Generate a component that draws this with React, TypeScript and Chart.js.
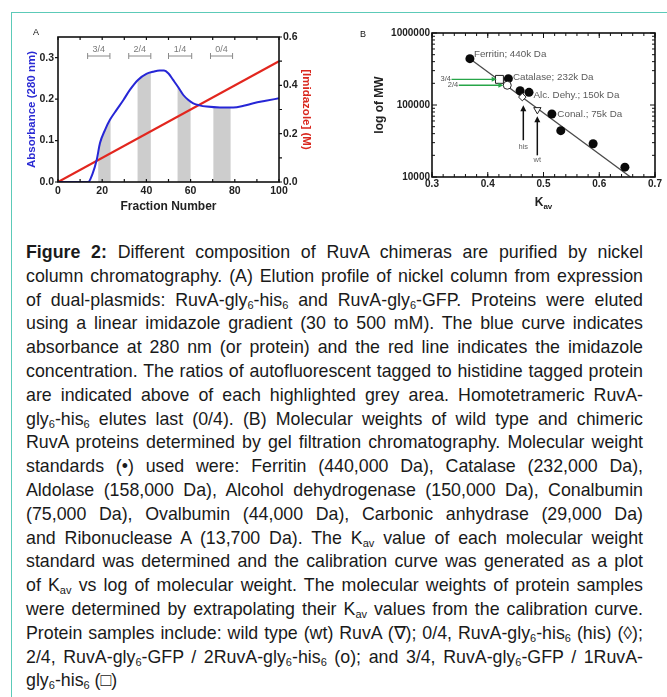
import React, { useEffect, useRef } from 'react';
import { Chart, registerables } from 'chart.js';
Chart.register(...registerables);

const FONT = '"Liberation Sans", Arial, Helvetica, sans-serif';

// ---------- Panel A data ----------
const fractions = [0, 5, 10, 13.7, 15.5, 17.5, 19, 21.3, 23.5, 26.5, 29.6, 32.6, 36.3, 40, 43, 46, 48, 50, 52, 54.5, 56.7, 59, 61.2, 64, 67.3, 73.3, 79.3, 84, 88.4, 94, 100];
const absorbance = [0, 0, 0, 0, 0.018, 0.053, 0.094, 0.126, 0.15, 0.174, 0.198, 0.223, 0.247, 0.261, 0.266, 0.269, 0.269, 0.262, 0.247, 0.228, 0.21, 0.198, 0.19, 0.185, 0.182, 0.18, 0.18, 0.184, 0.19, 0.196, 0.202];
const imidazoleFractions = [0, 100];
const imidazoleM = [0, 0.5];
const ratioLabels = ['3/4', '2/4', '1/4', '0/4'];
const bracketStart = [13.4, 32, 50, 69];
const bracketEnd = [23.5, 42, 60.5, 79];
const shadeStart = [18.2, 36, 54.1, 70.3];
const shadeEnd = [23.8, 42, 60, 78.1];

// ---------- Panel B data ----------
const stdKav = [0.368, 0.437, 0.458, 0.474, 0.515, 0.531, 0.589, 0.646];
const stdMW = [440000, 232000, 158000, 150000, 75000, 44000, 29000, 13700];
const stdLabels = ['Ferritin; 440k Da', 'Catalase; 232k Da', 'Alc. Dehy.; 150k Da', 'Conal.; 75k Da'];
const stdLabelIndex = [0, 1, 3, 4];
const fitKav = [0.368, 0.656];
const fitMW = [440000, 10000];
const sampleNames = ['3/4', '2/4', 'his', 'wt'];
const sampleKav = [0.421, 0.435, 0.462, 0.489];
const sampleMW = [227000, 188000, 129000, 86000];
const greenArrowStartKav = [0.335, 0.348];
const greenArrowEndKav = [0.416, 0.428];
const blackArrowKav = [0.4638, 0.4889];
const blackArrowFromMW = [32400, 20000];
const blackArrowToMW = [99000, 69700];
const blackArrowLabelMW = [26100, 17500];

// ---------- Caption ----------
const captionLines = [
  '**Figure 2:** Different composition of RuvA chimeras are purified by nickel',
  'column chromatography. (A) Elution profile of nickel column from expression',
  'of dual-plasmids: RuvA-gly~6-his~6 and RuvA-gly~6-GFP. Proteins were eluted',
  'using a linear imidazole gradient (30 to 500 mM). The blue curve indicates',
  'absorbance at 280 nm (or protein) and the red line indicates the imidazole',
  'concentration. The ratios of autofluorescent tagged to histidine tagged protein',
  'are indicated above of each highlighted grey area. Homotetrameric RuvA-',
  'gly~6-his~6 elutes last (0/4). (B) Molecular weights of wild type and chimeric',
  'RuvA proteins determined by gel filtration chromatography. Molecular weight',
  'standards (\u2022) used were: Ferritin (440,000 Da), Catalase (232,000 Da),',
  'Aldolase (158,000 Da), Alcohol dehydrogenase (150,000 Da), Conalbumin',
  '(75,000 Da), Ovalbumin (44,000 Da), Carbonic anhydrase (29,000 Da)',
  'and Ribonuclease A (13,700 Da). The K~av value of each molecular weight',
  'standard was determined and the calibration curve was generated as a plot',
  'of K~av vs log of molecular weight. The molecular weights of protein samples',
  'were determined by extrapolating their K~av values from the calibration curve.',
  'Protein samples include: wild type (wt) RuvA (\u2207); 0/4, RuvA-gly~6-his~6 (his) (\u25CA);',
  '2/4, RuvA-gly~6-GFP / 2RuvA-gly~6-his~6 (o); and 3/4,  RuvA-gly~6-GFP / 1RuvA-',
  'gly~6-his~6 (\u25A1)',
];

type Side = 'left' | 'right' | 'top' | 'bottom';
function drawTickMarks(ctx: CanvasRenderingContext2D, chart: any, scaleId: string, values: number[], len: number, side: Side) {
  const a = chart.chartArea;
  const s = chart.scales[scaleId];
  ctx.beginPath();
  values.forEach((v) => {
    const p = s.getPixelForValue(v);
    if (side === 'left') { ctx.moveTo(a.left, p); ctx.lineTo(a.left + len, p); }
    if (side === 'right') { ctx.moveTo(a.right, p); ctx.lineTo(a.right - len, p); }
    if (side === 'top') { ctx.moveTo(p, a.top); ctx.lineTo(p, a.top + len); }
    if (side === 'bottom') { ctx.moveTo(p, a.bottom); ctx.lineTo(p, a.bottom - len); }
  });
  ctx.stroke();
}

function range(a: number, b: number, step: number) {
  const out: number[] = [];
  for (let v = a; v <= b + step * 1e-6; v += step) out.push(Math.round(v * 1e6) / 1e6);
  return out;
}

function PanelA() {
  const ref = useRef<HTMLCanvasElement>(null);
  useEffect(() => {
    const shade = {
      id: 'shadeA',
      beforeDatasetsDraw(chart: any) {
        const { ctx, chartArea, scales } = chart;
        const pts = chart.getDatasetMeta(0).data;
        const base = scales.y.getPixelForValue(0);
        ctx.save();
        ctx.fillStyle = '#cdcdcd';
        for (let i = 0; i < shadeStart.length; i++) {
          const x0 = scales.x.getPixelForValue(shadeStart[i]);
          const x1 = scales.x.getPixelForValue(shadeEnd[i]);
          ctx.save();
          ctx.beginPath();
          ctx.rect(x0, chartArea.top, x1 - x0, chartArea.bottom - chartArea.top);
          ctx.clip();
          ctx.beginPath();
          ctx.moveTo(pts[0].x, base);
          pts.forEach((p: any) => ctx.lineTo(p.x, p.y));
          ctx.lineTo(pts[pts.length - 1].x, base);
          ctx.closePath();
          ctx.fill();
          ctx.restore();
        }
        ctx.restore();
      },
    };
    const deco = {
      id: 'decoA',
      afterDraw(chart: any) {
        const { ctx, chartArea: a, scales } = chart;
        ctx.save();
        // brackets
        ctx.strokeStyle = '#8a8a8a';
        ctx.fillStyle = '#7a7a7a';
        ctx.lineWidth = 1;
        const by = a.top + 19;
        ctx.font = `9px ${FONT}`;
        ctx.textAlign = 'center';
        ctx.textBaseline = 'middle';
        for (let i = 0; i < ratioLabels.length; i++) {
          const x0 = scales.x.getPixelForValue(bracketStart[i]);
          const x1 = scales.x.getPixelForValue(bracketEnd[i]);
          ctx.beginPath();
          ctx.moveTo(x0, by); ctx.lineTo(x1, by);
          ctx.moveTo(x0, by - 3); ctx.lineTo(x0, by + 3);
          ctx.moveTo(x1, by - 3); ctx.lineTo(x1, by + 3);
          ctx.stroke();
          ctx.fillText(ratioLabels[i], (x0 + x1) / 2, by - 6);
        }
        // frame
        ctx.strokeStyle = '#111';
        ctx.lineWidth = 1.6;
        ctx.strokeRect(a.left, a.top, a.right - a.left, a.bottom - a.top);
        ctx.lineWidth = 1.2;
        drawTickMarks(ctx, chart, 'x', range(0, 100, 10), 3, 'top');
        drawTickMarks(ctx, chart, 'x', range(0, 100, 10), 3, 'bottom');
        drawTickMarks(ctx, chart, 'y', range(0, 0.3, 0.1), -3, 'left');
        drawTickMarks(ctx, chart, 'y2', range(0, 0.6, 0.1), -3, 'right');
        // panel letter
        ctx.fillStyle = '#111';
        ctx.font = `9px ${FONT}`;
        ctx.textAlign = 'left';
        ctx.fillText('A', 19, 19);
        ctx.restore();
      },
    };
    const tickFont = { family: FONT, size: 10.5, weight: 'bold' as const };
    const chart = new Chart(ref.current!, {
      type: 'line',
      data: {
        datasets: [
          {
            data: fractions.map((f, i) => ({ x: f, y: absorbance[i] })),
            yAxisID: 'y',
            borderColor: '#2626d6',
            borderWidth: 2,
            pointRadius: 0,
            tension: 0.35,
            cubicInterpolationMode: 'monotone',
          },
          {
            data: imidazoleFractions.map((f, i) => ({ x: f, y: imidazoleM[i] })),
            yAxisID: 'y2',
            borderColor: '#e2261e',
            borderWidth: 2.2,
            pointRadius: 0,
          },
        ],
      },
      options: {
        animation: false,
        responsive: false,
        devicePixelRatio: 1,
        layout: { padding: { top: 23, left: 0, right: 0, bottom: 0 } },
        plugins: { legend: { display: false }, tooltip: { enabled: false } },
        scales: {
          x: {
            type: 'linear', min: 0, max: 100,
            ticks: { stepSize: 20, font: tickFont, color: '#222', padding: 3, maxRotation: 0 },
            grid: { display: false, drawTicks: false },
            border: { display: false },
            title: { display: true, text: 'Fraction Number', color: '#222', font: { family: FONT, size: 12, weight: 'bold' }, padding: { top: 0, bottom: 6 } },
            afterFit: (s: any) => { s.height = 38; },
          },
          y: {
            type: 'linear', position: 'left', min: 0, max: 0.35,
            ticks: { stepSize: 0.1, includeBounds: false, callback: (v: any) => Number(v).toFixed(1), font: tickFont, color: '#222', padding: 4 },
            grid: { display: false, drawTicks: false },
            border: { display: false },
            title: { display: true, text: 'Absorbance (280 nm)', color: '#2b2bd3', font: { family: FONT, size: 11.5, weight: 'bold' }, padding: { top: 11, bottom: 0 } },
            afterFit: (s: any) => { s.width = 44; },
          },
          y2: {
            type: 'linear', position: 'right', min: 0, max: 0.6,
            ticks: { stepSize: 0.2, callback: (v: any) => Number(v).toFixed(1), font: tickFont, color: '#222', padding: 4 },
            grid: { display: false, drawTicks: false },
            border: { display: false },
            title: { display: true, text: '[Imidazole] (M)', color: '#d9281f', font: { family: FONT, size: 11.5, weight: 'bold' }, padding: { top: 19, bottom: 0 } },
            afterFit: (s: any) => { s.width = 53; },
          },
        },
      } as any,
      plugins: [shade, deco],
    });
    return () => chart.destroy();
  }, []);
  return <canvas ref={ref} width={318} height={206} style={{ position: 'absolute', left: 14, top: 14 }} />;
}

function PanelB() {
  const ref = useRef<HTMLCanvasElement>(null);
  useEffect(() => {
    const deco = {
      id: 'decoB',
      afterDraw(chart: any) {
        const { ctx, chartArea: a, scales } = chart;
        const xs = scales.x, ys = scales.y;
        ctx.save();
        // frame
        ctx.strokeStyle = '#111';
        ctx.lineWidth = 1.6;
        ctx.strokeRect(a.left, a.top, a.right - a.left, a.bottom - a.top);
        ctx.lineWidth = 1;
        const minorX = range(0.3, 0.7, 0.02);
        const majorX = range(0.3, 0.7, 0.1);
        const minorY: number[] = [];
        [10000, 100000].forEach((d) => { for (let k = 2; k <= 9; k++) minorY.push(d * k); });
        const majorY = [10000, 100000, 1000000];
        (['top', 'bottom'] as Side[]).forEach((s) => { drawTickMarks(ctx, chart, 'x', minorX, 3, s); drawTickMarks(ctx, chart, 'x', majorX, 5, s); });
        (['left', 'right'] as Side[]).forEach((s) => { drawTickMarks(ctx, chart, 'y', minorY, 3, s); drawTickMarks(ctx, chart, 'y', majorY, 5, s); });
        // standard labels
        ctx.fillStyle = '#5a5a5a';
        ctx.font = `9.8px ${FONT}`;
        ctx.textAlign = 'left';
        ctx.textBaseline = 'middle';
        const dx = [4, 4.5, 4.5, 5.5];
        const dy = [-4.5, -1, 3.3, 0.3];
        stdLabelIndex.forEach((idx, i) => {
          ctx.fillText(stdLabels[i], xs.getPixelForValue(stdKav[idx]) + dx[i], ys.getPixelForValue(stdMW[idx]) + dy[i]);
        });
        // green arrows
        ctx.strokeStyle = '#27a548';
        ctx.fillStyle = '#27a548';
        ctx.lineWidth = 1.3;
        greenArrowStartKav.forEach((k0, i) => {
          const x0 = xs.getPixelForValue(k0);
          const x1 = xs.getPixelForValue(greenArrowEndKav[i]);
          const y = ys.getPixelForValue(sampleMW[i]);
          ctx.beginPath(); ctx.moveTo(x0, y); ctx.lineTo(x1 - 4, y); ctx.stroke();
          ctx.beginPath(); ctx.moveTo(x1, y); ctx.lineTo(x1 - 5, y - 2.5); ctx.lineTo(x1 - 5, y + 2.5); ctx.closePath(); ctx.fill();
          ctx.save();
          ctx.fillStyle = '#555';
          ctx.font = `7.5px ${FONT}`;
          ctx.textAlign = 'right';
          ctx.fillText(sampleNames[i], x0 - 0.5, y - 0.5);
          ctx.restore();
        });
        // black arrows
        ctx.strokeStyle = '#111';
        ctx.fillStyle = '#111';
        ctx.lineWidth = 1.5;
        blackArrowKav.forEach((k, i) => {
          const x = xs.getPixelForValue(k);
          const y0 = ys.getPixelForValue(blackArrowFromMW[i]);
          const y1 = ys.getPixelForValue(blackArrowToMW[i]);
          ctx.beginPath(); ctx.moveTo(x, y0); ctx.lineTo(x, y1 + 4); ctx.stroke();
          ctx.beginPath(); ctx.moveTo(x, y1); ctx.lineTo(x - 3, y1 + 6); ctx.lineTo(x + 3, y1 + 6); ctx.closePath(); ctx.fill();
          ctx.save();
          ctx.fillStyle = '#666';
          ctx.font = `7.5px ${FONT}`;
          ctx.textAlign = 'center';
          ctx.fillText(sampleNames[i + 2], x, ys.getPixelForValue(blackArrowLabelMW[i]));
          ctx.restore();
        });
        // x title K_av
        ctx.fillStyle = '#222';
        ctx.textAlign = 'left';
        ctx.textBaseline = 'alphabetic';
        const cx = (a.left + a.right) / 2;
        ctx.font = `bold 12px ${FONT}`;
        const wK = ctx.measureText('K').width;
        ctx.font = `bold 8px ${FONT}`;
        const wS = ctx.measureText('av').width;
        const startX = cx - (wK + wS) / 2;
        ctx.font = `bold 12px ${FONT}`;
        ctx.fillText('K', startX, 192);
        ctx.font = `bold 8px ${FONT}`;
        ctx.fillText('av', startX + wK, 195);
        // panel letter
        ctx.font = `9px ${FONT}`;
        ctx.fillStyle = '#111';
        ctx.textBaseline = 'middle';
        ctx.fillText('B', 24, 21);
        ctx.restore();
      },
    };
    const tickFont = { family: FONT, size: 10, weight: 'bold' as const };
    const openStyle = { backgroundColor: '#ffffff', borderColor: '#222', borderWidth: 1 };
    const chart = new Chart(ref.current!, {
      type: 'scatter',
      data: {
        datasets: [
          { data: [{ x: sampleKav[0], y: sampleMW[0] }], pointStyle: 'rect', pointRadius: 5.6, ...openStyle },
          { data: [{ x: sampleKav[1], y: sampleMW[1] }], pointStyle: 'circle', pointRadius: 4, ...openStyle },
          { data: [{ x: sampleKav[2], y: sampleMW[2] }], pointStyle: 'rectRot', pointRadius: 3.8, ...openStyle },
          { data: [{ x: sampleKav[3], y: sampleMW[3] }], pointStyle: 'triangle', pointRotation: 180, pointRadius: 4.2, ...openStyle },
          { data: stdKav.map((k, i) => ({ x: k, y: stdMW[i] })), pointStyle: 'circle', pointRadius: 4.5, backgroundColor: '#0a0a0a', borderColor: '#0a0a0a', borderWidth: 0 },
          { data: fitKav.map((k, i) => ({ x: k, y: fitMW[i] })), showLine: true, pointRadius: 0, borderColor: '#4a4a4a', borderWidth: 1.3 },
        ],
      },
      options: {
        animation: false,
        responsive: false,
        devicePixelRatio: 1,
        layout: { padding: { top: 19, left: 0, right: 12, bottom: 0 } },
        plugins: { legend: { display: false }, tooltip: { enabled: false } },
        scales: {
          x: {
            type: 'linear', min: 0.3, max: 0.7,
            ticks: { stepSize: 0.1, callback: (v: any) => Number(v).toFixed(1), font: tickFont, color: '#222', padding: 1, maxRotation: 0, autoSkip: false },
            grid: { display: false, drawTicks: false },
            border: { display: false },
            afterFit: (s: any) => { s.height = 37; },
          },
          y: {
            type: 'logarithmic', min: 10000, max: 1000000,
            ticks: {
              autoSkip: false,
              callback: (v: any) => ([10000, 100000, 1000000].includes(Number(v)) ? String(v) : ''),
              font: tickFont, color: '#222', padding: 2,
            },
            grid: { display: false, drawTicks: false },
            border: { display: false },
            title: { display: true, text: 'log of MW', color: '#222', font: { family: FONT, size: 12, weight: 'bold' }, padding: { top: 36, bottom: 0 } },
            afterFit: (s: any) => { s.width = 96; },
          },
        },
      } as any,
      plugins: [deco],
    });
    return () => chart.destroy();
  }, []);
  return <canvas ref={ref} width={331} height={200} style={{ position: 'absolute', left: 336, top: 14 }} />;
}

function renderLine(s: string) {
  const parts = s.split(/(~\w+|\*\*[^*]+\*\*)/);
  return parts.map((p, i) => {
    if (p.startsWith('~')) return <sub key={i} style={{ fontSize: '0.62em', lineHeight: 0, verticalAlign: '-0.3em' }}>{p.slice(1)}</sub>;
    if (p.startsWith('**')) return <b key={i}>{p.slice(2, -2)}</b>;
    return <React.Fragment key={i}>{p}</React.Fragment>;
  });
}

function Caption() {
  const lh = 23.8;
  return (
    <div style={{ position: 'absolute', left: 26, top: 241, width: 617, fontFamily: FONT, fontSize: 17.8, color: '#1a1a1a' }}>
      {captionLines.map((l, i) => (
        <div
          key={i}
          style={{
            height: lh,
            lineHeight: `${lh}px`,
            textAlign: 'justify',
            textAlignLast: i === captionLines.length - 1 ? 'left' : 'justify',
            whiteSpace: 'nowrap',
          }}
        >
          {renderLine(l)}
        </div>
      ))}
    </div>
  );
}

export default function App() {
  return (
    <div style={{ position: 'fixed', left: 0, top: 0, width: 667, height: 697, background: '#fff', overflow: 'hidden' }}>
      <div style={{ position: 'absolute', left: 11, top: 12, right: 0, bottom: 0, borderLeft: '1.5px solid #5ccab8', borderTop: '1.5px solid #5ccab8' }} />
      <PanelA />
      <PanelB />
      <Caption />
    </div>
  );
}
